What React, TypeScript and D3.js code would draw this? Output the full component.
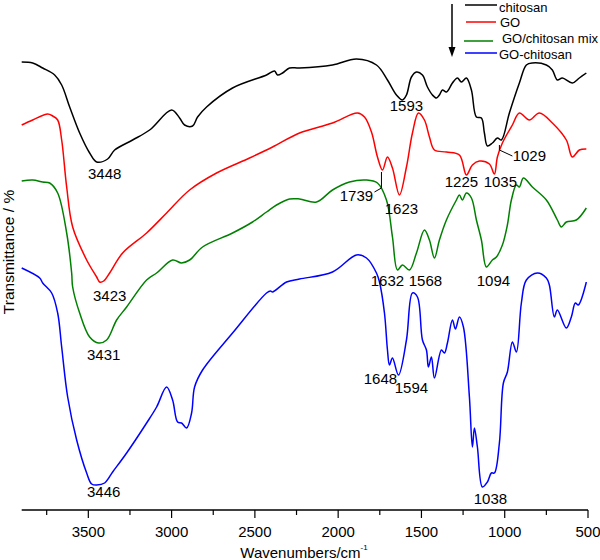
import React from "react";
import * as d3 from "d3";

type Pt = [number, number];

const seriesNames = ["chitosan", "GO", "GO/chitosan mix", "GO-chitosan"];
const seriesColors = ["#000000", "#ff0000", "#008000", "#0000ff"];

// [wavenumber cm-1, transmittance (a.u., offset stacked)]
const chitosan: Pt[] = [
  [3900, 89.6], [3834, 89.4], [3774, 88.4], [3702, 87], [3660, 85], [3612, 80.6], [3552, 75.4],
  [3492, 71.4], [3450, 69.6], [3384, 70.2], [3342, 72], [3234, 74], [3132, 76], [3000, 80],
  [2952, 78.4], [2922, 77], [2874, 76.8], [2844, 78.6], [2790, 80.6], [2634, 84.4], [2430, 87],
  [2382, 87.8], [2364, 87], [2334, 87.4], [2292, 88.4], [2232, 88.4], [2034, 89], [1890, 90.2],
  [1770, 89], [1704, 86], [1650, 83], [1614, 82], [1590, 83], [1560, 86.6], [1530, 87.6],
  [1494, 87], [1464, 84.6], [1434, 83], [1410, 82.4], [1392, 83], [1374, 84], [1350, 83.6],
  [1314, 85.4], [1284, 86.4], [1260, 85.6], [1230, 86.4], [1200, 84], [1170, 78.6], [1140, 78.4],
  [1122, 75.4], [1104, 72.8], [1074, 73.4], [1044, 74.4], [1020, 74], [972, 79.4], [912, 85.4],
  [870, 89], [834, 89.4], [750, 89], [714, 88], [684, 86], [654, 86.4], [594, 85.4], [552, 86.4],
  [510, 87.4],
];

const go: Pt[] = [
  [3900, 77], [3834, 78], [3744, 79.2], [3714, 78.8], [3684, 78], [3660, 74], [3630, 64.6],
  [3594, 56.6], [3510, 50], [3450, 46.6], [3432, 45.6], [3408, 45.8], [3372, 47.4], [3294, 51.4],
  [3150, 55.4], [3030, 59.4], [2892, 64], [2730, 67.4], [2532, 70.4], [2394, 72.6], [2232, 75.4],
  [2034, 77.4], [1884, 79.4], [1842, 78.6], [1800, 75.6], [1764, 70.6], [1734, 68], [1704, 70.6],
  [1674, 68.4], [1632, 63], [1590, 68.6], [1554, 75.4], [1518, 79.4], [1482, 78], [1452, 74.6],
  [1422, 72], [1350, 71.6], [1272, 71], [1230, 67], [1194, 69], [1152, 69.8], [1092, 69.2],
  [1062, 67.2], [1044, 70.6], [1014, 73.4], [954, 77], [912, 79.4], [852, 78], [792, 79.4],
  [714, 77.4], [630, 74], [594, 70.6], [552, 72], [510, 72.2],
];

const mix: Pt[] = [
  [3900, 65.8], [3834, 66], [3774, 65.6], [3732, 65.4], [3684, 63.4], [3630, 55.4], [3600, 47.4],
  [3594, 44.6], [3552, 39.4], [3492, 34.6], [3438, 33.4], [3390, 34], [3330, 38], [3270, 40.6],
  [3150, 46], [3090, 47.4], [2994, 50], [2940, 49.4], [2892, 50], [2814, 52.6], [2634, 55.4],
  [2514, 57.6], [2430, 59.6], [2370, 61], [2292, 62.2], [2232, 62.2], [2130, 61.6], [2034, 64],
  [1932, 65.6], [1830, 66], [1764, 65.4], [1710, 62], [1674, 54.6], [1644, 48], [1614, 49],
  [1572, 48], [1530, 51.4], [1482, 56], [1452, 54], [1422, 50.4], [1392, 54], [1350, 58],
  [1290, 62], [1272, 63], [1254, 62], [1230, 63.4], [1200, 62.4], [1170, 58], [1140, 54],
  [1110, 48.6], [1074, 50], [1050, 50.6], [1014, 53], [984, 57], [960, 62], [930, 65], [912, 64.6],
  [888, 66.4], [834, 64.6], [750, 62], [684, 58], [660, 56.6], [630, 57.6], [570, 58], [510, 60.4],
];

const goChitosan: Pt[] = [
  [3900, 48.4], [3792, 46.4], [3774, 45.4], [3720, 43.4], [3684, 39.4], [3660, 32.6], [3624, 22.6],
  [3570, 14], [3510, 7.4], [3480, 5.2], [3450, 5], [3402, 5.4], [3354, 7.6], [3270, 11.4],
  [3150, 17.4], [3090, 20.6], [3030, 24.6], [2994, 22], [2964, 17.6], [2940, 17.4], [2910, 16.4],
  [2880, 19.4], [2862, 24.6], [2814, 28], [2634, 35.4], [2430, 43.4], [2406, 43.8], [2394, 43.6],
  [2310, 45.6], [2232, 46.2], [2034, 47.6], [1890, 51], [1830, 50.4], [1770, 47.4], [1752, 45.6],
  [1722, 39.4], [1704, 32], [1692, 29], [1674, 30.4], [1638, 27], [1590, 34], [1554, 43.4],
  [1524, 42.6], [1494, 34], [1470, 32], [1458, 28.6], [1440, 30.6], [1422, 26.4], [1380, 32],
  [1362, 31.4], [1344, 33.4], [1314, 38], [1296, 36.2], [1272, 38.6], [1248, 36.6], [1212, 22.6],
  [1194, 12.6], [1182, 16.4], [1164, 12.6], [1134, 4.6], [1104, 5.6], [1080, 7.4], [1062, 7.4],
  [1032, 13.4], [1008, 25.4], [984, 27.6], [954, 33.6], [930, 31.6], [900, 41.4], [870, 46],
  [804, 47.4], [750, 46.4], [732, 45], [702, 38.6], [684, 40], [630, 36.4], [600, 38.6],
  [576, 41.4], [558, 41], [510, 45.6],
];

const allSeries: Pt[][] = [chitosan, go, mix, goChitosan];

// peak annotations: text, wavenumber & transmittance of label centre
const peakTexts = ["3448", "1593", "1029", "3423", "1739", "1623", "1225", "1035", "3431", "1632", "1568", "1094", "1648", "1594", "3446", "1038"];
const peakW = [3402, 1590, 852, 3372, 1890, 1620, 1260, 1026, 3408, 1704, 1476, 1068, 1746, 1560, 3408, 1086];
const peakT = [67.2, 80.8, 70.8, 42.8, 62.8, 60.2, 65.6, 65.6, 31, 45.8, 45.8, 45.8, 26.2, 24.4, 3.6, 2.2];

const leader1739: Pt[] = [[1740, 67.6], [1740, 64.4], [1782, 63.6]];
const leader1029: Pt[] = [[1032, 73], [1032, 72], [954, 70.8]];

const majorTicks = [3500, 3000, 2500, 2000, 1500, 1000, 500];
const minorTicks = [3750, 3250, 2750, 2250, 1750, 1250, 750];

const W = 600;
const H = 560;

export default function App() {
  const x = d3.scaleLinear().domain([3900, 500]).range([21.7, 588]);
  const y = d3.scaleLinear().domain([0, 100]).range([510, 10]);
  const line = d3
    .line<Pt>()
    .x((d) => x(d[0]))
    .y((d) => y(d[1]))
    .curve(d3.curveCatmullRom.alpha(0.5));
  const straight = d3
    .line<Pt>()
    .x((d) => x(d[0]))
    .y((d) => y(d[1]));

  const font = "'Liberation Sans', Arial, sans-serif";
  const axisY = y(0);
  const legendY = [5, 22, 41, 53];
  const legendTextY = [7, 22.5, 38.5, 54];
  const legendTextX = [499, 500, 502, 499];
  const legendLineX = [[465, 497], [466, 496], [464, 493], [465, 497]];

  return (
    <svg
      width={W}
      height={H}
      style={{ position: "absolute", left: 0, top: 0, background: "#fff" }}
      fontFamily={font}
    >
      <rect width={W} height={H} fill="#fff" />
      {allSeries.map((s, i) => (
        <path key={i} d={line(s) || ""} fill="none" stroke={seriesColors[i]} strokeWidth={1.5} strokeLinejoin="round" />
      ))}

      {peakTexts.map((t, i) => (
        <text key={t + i} x={x(peakW[i])} y={y(peakT[i])} dy="0.36em" textAnchor="middle" fontSize={15} fill="#000">
          {t}
        </text>
      ))}
      <path d={straight(leader1739) || ""} fill="none" stroke="#000" strokeWidth={1} />
      <path d={straight(leader1029) || ""} fill="none" stroke="#000" strokeWidth={1} />

      {/* x axis */}
      <line x1={x(3900)} x2={x(500)} y1={axisY} y2={axisY} stroke="#000" strokeWidth={1.5} />
      {majorTicks.map((t) => (
        <g key={t}>
          <line x1={x(t)} x2={x(t)} y1={axisY} y2={axisY + 8} stroke="#000" strokeWidth={1.2} />
          <text x={x(t)} y={axisY + 22} dy="0.36em" textAnchor="middle" fontSize={15} fill="#000">
            {t}
          </text>
        </g>
      ))}
      {minorTicks.map((t) => (
        <line key={t} x1={x(t)} x2={x(t)} y1={axisY} y2={axisY + 5} stroke="#000" strokeWidth={1.2} />
      ))}
      <text x={304} y={558} textAnchor="middle" fontSize={15} fill="#000">
        Wavenumbers/cm
        <tspan fontSize={8} dy={-8}>-1</tspan>
      </text>
      <text transform="translate(8,252) rotate(-90)" textAnchor="middle" fontSize={15.5} fill="#000" dy="0.36em">
        Transmittance / %
      </text>

      {/* arrow */}
      <line x1={452} x2={452} y1={4} y2={50} stroke="#000" strokeWidth={1.5} />
      <path d="M448.5,47 L455.5,47 L452,57 Z" fill="#000" />

      {/* legend */}
      {seriesNames.map((n, i) => (
        <g key={n}>
          <line x1={legendLineX[i][0]} x2={legendLineX[i][1]} y1={legendY[i]} y2={legendY[i]} stroke={seriesColors[i]} strokeWidth={1.5} />
          <text x={legendTextX[i]} y={legendTextY[i]} dy="0.36em" fontSize={13} fill="#000">
            {n}
          </text>
        </g>
      ))}
    </svg>
  );
}
